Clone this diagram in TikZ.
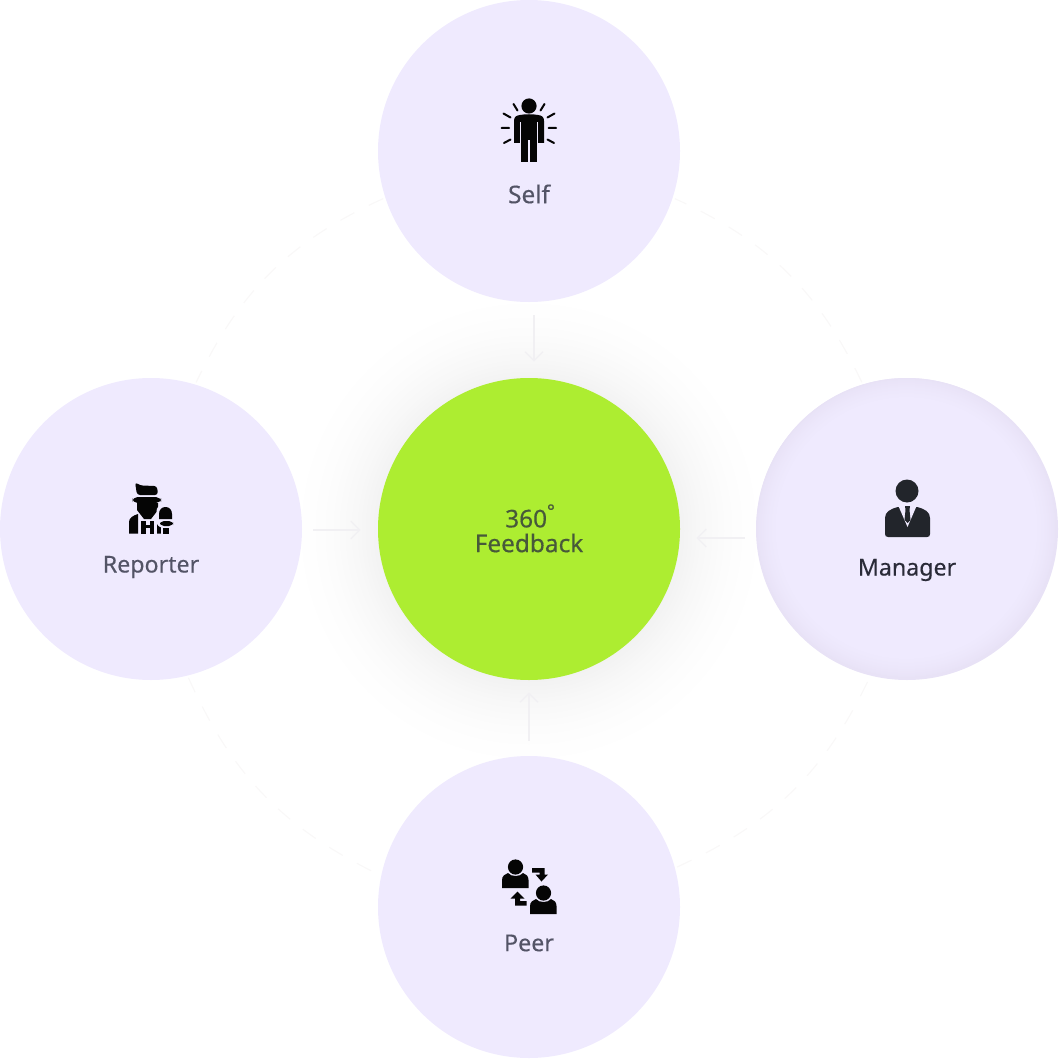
\documentclass[tikz,border=0pt]{standalone}
\usepackage{fontspec}
\setmainfont{Noto Sans}[RawFeature={embolden=0.35}]
\usetikzlibrary{arrows.meta}
\definecolor{lav}{HTML}{EFEAFE}
\definecolor{lavedge}{HTML}{E8E2F6}
\definecolor{lime}{HTML}{ADED31}
\definecolor{labelgrey}{HTML}{535466}
\definecolor{labeldark}{HTML}{2A2B38}
\definecolor{limetext}{HTML}{47593A}
\definecolor{iconblack}{HTML}{050505}
\definecolor{icondark}{HTML}{22252B}
\definecolor{arcgrey}{HTML}{F9F8F8}
\definecolor{arrowgrey}{HTML}{F1F0F3}
\tikzset{
  bubble/.style={circle,minimum size=151pt,inner sep=0pt,fill=lav},
  lbl/.style={font=\fontsize{11.6pt}{13pt}\selectfont,text=labelgrey,inner sep=0pt},
  biglbl/.style={lbl,font=\fontsize{12.2pt}{13pt}\selectfont},
  arcline/.style={draw=arcgrey,line width=0.6pt,dash pattern=on 8pt off 8pt},
  flow/.style={draw=arrowgrey,line width=0.6pt,-{Straight Barb[length=4.5pt,width=9pt]}},
  cut/.style={lav}
}
\begin{document}
\begin{tikzpicture}[x=0.5pt,y=-0.5pt]
\useasboundingbox (0,0) rectangle (1059,1059);
% soft glow behind the centre circle
\foreach \r in {245,243,...,151}{
  \pgfmathsetmacro{\pct}{5*((245-\r)/94)^2}
  \fill[black!\pct!white] (529,531) circle[radius=\r];
}
% nodes
\node[bubble] (self) at (529,151) {};
\node[bubble] (rep) at (151,529) {};
\node[bubble,fill=lavedge] (man) at (907,529) {};
\foreach \r in {150,149,...,130}{
  \pgfmathsetmacro{\pct}{100*((150-\r)/20)^0.7}
  \fill[lav!\pct!lavedge] (906.5,528) circle[radius=\r];
}
\node[bubble] (peer) at (529,907) {};
\node[bubble,fill=lime] (center) at (529,529) {};
% labels
\node[biglbl] (selfl) at (529,194) {Self};
\node[lbl] (repl) at (151,567) {Reporter};
\node[lbl,text=labeldark] (manl) at (907,570) {Manager};
\node[lbl] (peerl) at (529,943) {Peer};
\node[biglbl,text=limetext] (c1) at (530,516) {360\raisebox{5pt}{\fontsize{9pt}{9pt}\selectfont °}};
\node[biglbl,text=limetext] (c2) at (529,543) {Feedback};
% ring arcs
\draw[arcline,shorten <=1pt,shorten >=1pt] (self.198) to[bend right=20] (rep.73);
\draw[arcline,shorten <=1pt,shorten >=1pt] (rep.284) to[bend right=20] (peer.168);
\draw[arcline,shorten <=1pt,shorten >=1pt] (peer.15) to[bend right=20] (man.256);
\draw[arcline,shorten <=1pt,shorten >=1pt] (man.107) to[bend right=20] (self.342);
% arrows into the centre
\draw[flow,shorten <=6.5pt,shorten >=8pt] ([xshift=2.5pt]self.south) -- ([xshift=2.5pt]center.north);
\draw[flow,shorten <=5.5pt,shorten >=8.5pt] ([yshift=-0.5pt]rep.east) -- ([yshift=-0.5pt]center.west);
\draw[flow,shorten <=5.5pt,shorten >=8pt] ([yshift=-4.5pt]man.west) -- ([yshift=-4.5pt]center.east);
\draw[flow,shorten <=7.5pt,shorten >=6pt] (peer.north) -- (center.south);
% Self icon
\fill[iconblack] (529,106) circle[radius=7.6];
\fill[iconblack] (514,143) -- (514,121) .. controls (514,117) and (516,115.5) .. (520,115) .. controls (525,114) and (533,114) .. (538,115) .. controls (542,115.5) and (544,117) .. (544,121) -- (544,143) -- cycle;
\fill[iconblack] (521,135) rectangle (537,162);
\fill[cut] (528.4,140) rectangle (529.6,163);
\fill[cut] (519.8,122) rectangle (521,144);
\fill[cut] (537,122) rectangle (538.2,144);
\fill[lav] (513,143) rectangle (520.5,145);
\fill[lav] (537.5,143) rectangle (545,145);
\draw[iconblack,line width=1pt,line cap=round]
  (501.5,128) -- (509,128) (548.5,128) -- (556,128)
  (503.5,113.5) -- (510.5,117.5) (547.5,117.5) -- (554.5,113.5)
  (513.5,104) -- (517.5,110.5) (540.5,110.5) -- (544.5,104)
  (504,143) -- (510.5,139.5) (547.5,139.5) -- (554,143);
% Reporter icon
\fill[iconblack,rounded corners=1.5pt] (135,482) -- (140,485.5) -- (157,486) -- (158,495) -- (137,495) -- cycle;
\fill[iconblack,rounded corners=2.5pt] (132.5,497) rectangle (161,503);
\fill[iconblack] (137,503) -- (158,503) -- (158,510) -- (151,519) -- (144,519) -- (137,510) -- cycle;
\fill[iconblack] (129,533.5) -- (129,522) .. controls (129,518) and (133,515.5) .. (138,514) -- (138,533.5) -- cycle;
\fill[iconblack] (141,521) rectangle (145.5,533.5);
\fill[iconblack] (149.5,521) rectangle (154,533.5);
\fill[iconblack] (141,525) rectangle (154,527.5);
\fill[iconblack] (157,514) -- (161,516) -- (161,533.5) -- (157,533.5) -- cycle;
\fill[lav,rounded corners=3pt] (156.5,505) rectangle (174.5,527.5);
\fill[lav] (161,527) rectangle (171,535);
\fill[iconblack] (159,519) -- (159,514) .. controls (159,509.5) and (162,507) .. (165.5,507) .. controls (169,507) and (172,509.5) .. (172,514) -- (172,519) -- cycle;
\fill[iconblack,rounded corners=2pt] (160,521) rectangle (173,526);
\fill[iconblack] (163,528) rectangle (169,534);
% Manager icon
\fill[icondark] (907,491) circle[radius=11.5];
\fill[icondark] (885,534) -- (885,518) .. controls (885,512) and (890,509) .. (898,507) -- (917,507) .. controls (925,509) and (930,512) .. (930,518) -- (930,534) .. controls (930,536) and (929,537) .. (927,537) -- (888,537) .. controls (886,537) and (885,536) .. (885,534) -- cycle;
\fill[lav] (898,505) -- (917,505) -- (907.5,527) -- cycle;
\fill[icondark] (905,506) -- (910,506) -- (909.5,510) -- (910.5,520) -- (907.5,523) -- (904.5,520) -- (905.5,510) -- cycle;
% Peer icon
\fill[iconblack] (515.5,867) circle[radius=7.6];
\fill[iconblack] (502,888) -- (502,880) .. controls (502,876) and (505,874) .. (508,873) .. controls (511,877) and (520,877) .. (523,873) .. controls (526,874) and (528.5,876) .. (528.5,880) -- (528.5,888) -- cycle;
\fill[iconblack] (543.5,893) circle[radius=7.6];
\fill[iconblack] (530,914) -- (530,906) .. controls (530,902) and (533,900) .. (536,899) .. controls (539,903) and (548,903) .. (551,899) .. controls (554,900) and (556.5,902) .. (556.5,906) -- (556.5,914) -- cycle;
\fill[iconblack] (532,868) -- (544.5,868) -- (544.5,874.5) -- (548,874.5) -- (541.5,881.5) -- (535.5,874.5) -- (539.5,874.5) -- (539.5,872.5) -- (532,872.5) -- cycle;
\fill[iconblack] (526.5,905.5) -- (515,905.5) -- (515,898.5) -- (510.5,898.5) -- (517.5,891.5) -- (524.5,898.5) -- (520,898.5) -- (520,901) -- (526.5,901) -- cycle;
\end{tikzpicture}
\end{document}
